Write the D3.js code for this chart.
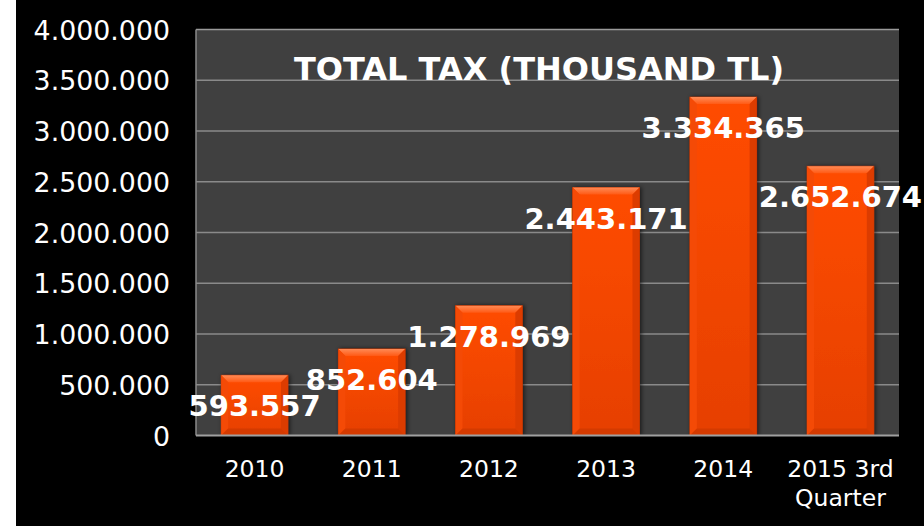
<!DOCTYPE html>
<html><head><meta charset="utf-8">
<script src="https://cdn.jsdelivr.net/npm/d3@7"></script>
<style>html,body{margin:0;padding:0;background:#000;}svg{display:block;}</style>
</head><body>
<svg id="c" width="924" height="526"></svg>
<script>
const categories = ["2010", "2011", "2012", "2013", "2014", "2015 3rd\nQuarter"];
const values = [593557, 852604, 1278969, 2443171, 3334365, 2652674];
const yTicks = [0, 500000, 1000000, 1500000, 2000000, 2500000, 3000000, 3500000, 4000000];
const title = "TOTAL TAX (THOUSAND TL)";

(function() {
const svg = d3.select("#c");
const W = 924, H = 526;
const pL = 196, pR = 899, pT = 29.5, pB = 435.5;

const loc = d3.formatLocale({decimal: ",", thousands: ".", grouping: [3], currency: ["", ""]});
const fmt = loc.format(",d");

svg.append("rect").attr("width", W).attr("height", H).attr("fill", "#000");
svg.append("rect").attr("x", 0).attr("y", 0).attr("width", 16).attr("height", H).attr("fill", "#fff");

const x = d3.scaleBand().domain(categories).range([pL, pR]).paddingInner(0.43).paddingOuter(0.215);
const y = d3.scaleLinear().domain([0, 4000000]).range([pB, pT]);

svg.append("rect").attr("x", pL).attr("y", pT).attr("width", pR - pL).attr("height", pB - pT).attr("fill", "#404040");

const defs = svg.append("defs");
const g1 = defs.append("linearGradient").attr("id", "barg").attr("x1", 0).attr("y1", 0).attr("x2", 0).attr("y2", 1);
g1.append("stop").attr("offset", "0%").attr("stop-color", "#FF4C04");
g1.append("stop").attr("offset", "100%").attr("stop-color", "#E64000");
const g2 = defs.append("linearGradient").attr("id", "topg").attr("x1", 0).attr("y1", 0).attr("x2", 0).attr("y2", 1);
g2.append("stop").attr("offset", "0%").attr("stop-color", "#FF8A55");
g2.append("stop").attr("offset", "100%").attr("stop-color", "#FF5A15");
const sh = defs.append("filter").attr("id", "sh").attr("x", "-20%").attr("y", "-20%").attr("width", "140%").attr("height", "140%");
sh.append("feDropShadow").attr("dx", 1.5).attr("dy", 0).attr("stdDeviation", 2).attr("flood-color", "#000").attr("flood-opacity", 0.6);

svg.append("g").selectAll("line").data(yTicks.filter(d => d > 0)).join("line")
  .attr("x1", pL).attr("x2", pR)
  .attr("y1", d => y(d)).attr("y2", d => y(d))
  .attr("stroke", d => d === 4000000 ? "#9a9a9a" : "#8a8a8a").attr("stroke-width", 1.5);

svg.append("line").attr("x1", pL).attr("x2", pL).attr("y1", pT).attr("y2", pB).attr("stroke", "#8a8a8a").attr("stroke-width", 1.5);

svg.append("text").attr("x", 539).attr("y", 79.5).attr("text-anchor", "middle")
  .attr("font-family", "DejaVu Sans").attr("font-weight", "bold").attr("font-size", 32)
  .attr("fill", "#fff").text(title);

const bw = x.bandwidth();
const bev = 7;
const data = categories.map((c, i) => ({c, v: values[i]}));
const bars = svg.append("g").selectAll("g").data(data).join("g");
bars.append("rect").attr("x", d => x(d.c)).attr("y", d => y(d.v)).attr("width", bw).attr("height", d => y(0) - y(d.v))
  .attr("fill", "url(#barg)").attr("stroke", "#B83200").attr("stroke-width", 0.8).attr("filter", "url(#sh)");
bars.append("polygon").attr("points", d => {
  const x0 = x(d.c), y0 = y(d.v);
  return [[x0, y0], [x0 + bw, y0], [x0 + bw - bev, y0 + bev], [x0 + bev, y0 + bev]].map(p => p.join(",")).join(" ");
}).attr("fill", "url(#topg)");
bars.append("polygon").attr("points", d => {
  const x0 = x(d.c), y0 = y(d.v), y1 = y(0);
  return [[x0, y0], [x0 + bev, y0 + bev], [x0 + bev, y1 - bev], [x0, y1]].map(p => p.join(",")).join(" ");
}).attr("fill", "#F44A06");
bars.append("polygon").attr("points", d => {
  const x0 = x(d.c) + bw, y0 = y(d.v), y1 = y(0);
  return [[x0, y0], [x0 - bev, y0 + bev], [x0 - bev, y1 - bev], [x0, y1]].map(p => p.join(",")).join(" ");
}).attr("fill", "#DC3C00");
bars.append("polygon").attr("points", d => {
  const x0 = x(d.c), y1 = y(0);
  return [[x0, y1], [x0 + bev, y1 - bev], [x0 + bw - bev, y1 - bev], [x0 + bw, y1]].map(p => p.join(",")).join(" ");
}).attr("fill", "#D43A00");

svg.append("line").attr("x1", pL).attr("x2", pR).attr("y1", pB).attr("y2", pB).attr("stroke", "#a0a0a0").attr("stroke-width", 2);

const yAxis = d3.axisLeft(y).tickValues(yTicks).tickFormat(fmt).tickSize(0).tickPadding(0);
const ya = svg.append("g").attr("transform", "translate(170,0)").call(yAxis);
ya.select(".domain").remove();
ya.selectAll("text").attr("font-family", "DejaVu Sans").attr("font-size", 26.8).attr("fill", "#fff").attr("dy", "0.36em");

const xl = svg.append("g").selectAll("text").data(categories).join("text")
  .attr("x", d => x(d) + bw / 2).attr("y", 477).attr("text-anchor", "middle")
  .attr("font-family", "DejaVu Sans").attr("font-size", 23.5).attr("fill", "#fff");
xl.each(function(d) {
  const lines = d.split("\n");
  d3.select(this).selectAll("tspan").data(lines).join("tspan")
    .attr("x", x(d) + bw / 2).attr("dy", (l, i) => i === 0 ? 0 : 29).text(l => l);
});

svg.append("g").selectAll("text").data(data).join("text")
  .attr("x", d => x(d.c) + bw / 2).attr("y", d => y(d.v) + 41).attr("text-anchor", "middle")
  .attr("font-family", "DejaVu Sans").attr("font-weight", "bold").attr("font-size", 29)
  .attr("fill", "#fff").text(d => fmt(d.v));
})();
</script>
</body></html>
